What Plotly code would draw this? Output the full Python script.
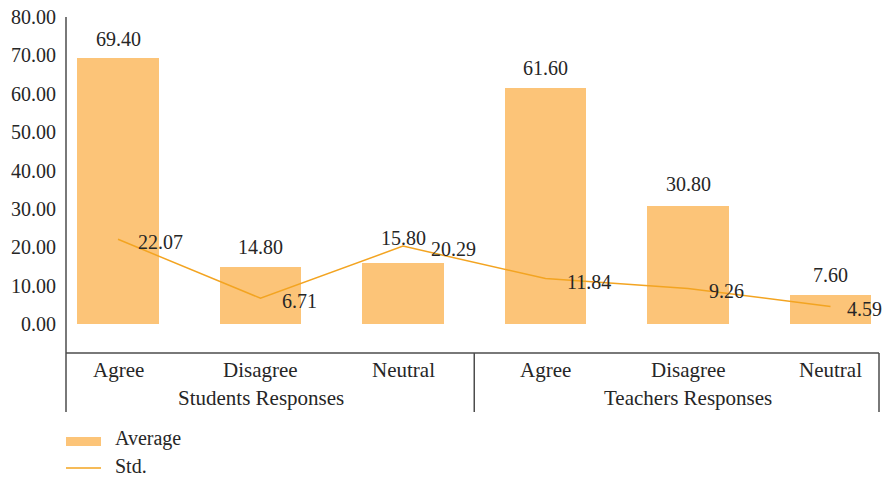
import plotly.graph_objects as go

categories = ["Agree", "Disagree", "Neutral", "Agree", "Disagree", "Neutral"]
groups = ["Students Responses", "Teachers Responses"]
average = [69.40, 14.80, 15.80, 61.60, 30.80, 7.60]
std = [22.07, 6.71, 20.29, 11.84, 9.26, 4.59]
y_ticks = [0, 10, 20, 30, 40, 50, 60, 70, 80]

# label nudges (pixels) that the original used to avoid overlaps
avg_label_shift = [19, 20, 25, 20, 22, 20]
std_label_shift = [19, 20, 27, 20, 20, 15]

BAR_COLOR = "#FCC478"
LINE_COLOR = "#F3A421"
AXIS_COLOR = "#4d4d4d"
TEXT_COLOR = "#262626"
FONT = "Liberation Serif"
FS = 20
FS_CAT = 21

W, H = 885, 477
L, R, T, B = 66, 879, 17, 353  # plot area pixels
pw, ph = R - L, B - T

def px_x(p):
    return (p - L) / pw

def px_y(p):
    return (B - p) / ph

xs = list(range(len(categories)))

fig = go.Figure()
fig.add_trace(go.Bar(x=xs, y=average, width=0.575, marker_color=BAR_COLOR,
                     marker_line_width=0, name="Average", showlegend=False))
fig.add_trace(go.Scatter(x=xs, y=std, mode="lines", line=dict(color=LINE_COLOR, width=1.5),
                         name="Std.", showlegend=False, cliponaxis=False))

ann = []
for x, v, s in zip(xs, average, avg_label_shift):
    ann.append(dict(x=x, y=v, text=f"{v:.2f}", showarrow=False, yanchor="middle",
                    xanchor="center", yshift=s, font=dict(size=FS, color=TEXT_COLOR, family=FONT)))
for x, v, s in zip(xs, std, std_label_shift):
    ann.append(dict(x=x, y=v, text=f"{v:.2f}", showarrow=False, yanchor="middle",
                    xanchor="left", xshift=s - 1, yshift=-3, font=dict(size=FS, color=TEXT_COLOR, family=FONT)))
for x, c in zip(xs, categories):
    ann.append(dict(x=x, xref="x", y=px_y(370), yref="paper", text=c, showarrow=False,
                    yanchor="middle", xanchor="center", font=dict(size=FS_CAT, color=TEXT_COLOR, family=FONT)))
for gi, g in enumerate(groups):
    ann.append(dict(x=gi * 3 + 1, xref="x", y=px_y(398), yref="paper", text=g, showarrow=False,
                    yanchor="middle", xanchor="center", font=dict(size=FS_CAT, color=TEXT_COLOR, family=FONT)))
# legend
ann.append(dict(x=px_x(113), xref="paper", y=px_y(438), yref="paper", text="Average", showarrow=False,
                yanchor="middle", xanchor="left", font=dict(size=FS, color=TEXT_COLOR, family=FONT)))
ann.append(dict(x=px_x(113), xref="paper", y=px_y(466), yref="paper", text="Std.", showarrow=False,
                yanchor="middle", xanchor="left", font=dict(size=FS, color=TEXT_COLOR, family=FONT)))

shapes = [
    dict(type="line", xref="paper", yref="paper", x0=0, x1=0, y0=1, y1=px_y(412),
         line=dict(color=AXIS_COLOR, width=1.5)),
    dict(type="line", xref="paper", yref="paper", x0=0, x1=1, y0=0, y1=0,
         line=dict(color=AXIS_COLOR, width=1.5)),
    dict(type="line", xref="x", yref="paper", x0=2.5, x1=2.5, y0=0, y1=px_y(412),
         line=dict(color=AXIS_COLOR, width=1.5)),
    dict(type="line", xref="paper", yref="paper", x0=1, x1=1, y0=0, y1=px_y(412),
         line=dict(color=AXIS_COLOR, width=1.5)),
    dict(type="rect", xref="paper", yref="paper", x0=0, x1=px_x(101), y0=px_y(437), y1=px_y(446),
         fillcolor=BAR_COLOR, line=dict(width=0)),
    dict(type="line", xref="paper", yref="paper", x0=0, x1=px_x(101), y0=px_y(468), y1=px_y(468),
         line=dict(color=LINE_COLOR, width=1.5)),
]

# x mapping: category centre 0 at pixel 118, spacing 142.5 px
x0 = (L - 118) / 142.5
x1 = (R - 118) / 142.5
# y mapping: 0 at pixel 324, 80 at pixel 17
ppu = (324 - 17) / 80
ymin = -(B - 324) / ppu

fig.update_layout(
    width=W, height=H,
    margin=dict(l=L, r=W - R, t=T, b=H - B, pad=0),
    plot_bgcolor="white", paper_bgcolor="white",
    font=dict(family=FONT, size=FS, color=TEXT_COLOR),
    showlegend=False,
    xaxis=dict(range=[x0, x1], showgrid=False, zeroline=False, showticklabels=False,
               showline=False, ticks=""),
    yaxis=dict(range=[ymin, 80], tickvals=y_ticks, tickformat=".2f", showgrid=False,
               zeroline=False, showline=False, ticks="", ticklabelstandoff=9,
               tickfont=dict(size=FS, color=TEXT_COLOR, family=FONT)),
    annotations=ann,
    shapes=shapes,
    bargap=0,
)

fig.write_html("out.html")
